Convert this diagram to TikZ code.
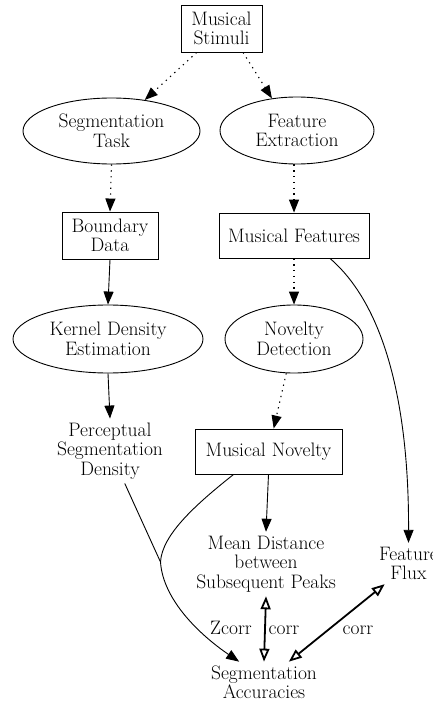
\documentclass[tikz,border=0pt]{standalone}
\usetikzlibrary{arrows.meta,shapes.geometric}
\begin{document}
\begin{tikzpicture}[x=1pt,y=-1pt,
  every node/.style={font=\fontsize{19.5}{19.5}\selectfont, align=center},
  boxnode/.style={draw, line width=0.9pt, rectangle, inner sep=0pt},
  ellnode/.style={draw, line width=0.9pt, ellipse, inner sep=0pt},
  txt/.style={inner sep=4pt},
  lbl/.style={inner sep=0pt, anchor=base},
  dotline/.style={line width=1.1pt, dash pattern=on 1.3pt off 4.5pt, -{Triangle[length=13pt,width=10pt]}},
  solline/.style={line width=0.9pt, -{Triangle[length=13pt,width=10pt]}},
  plainline/.style={line width=0.9pt},
  dblline/.style={line width=1.8pt, {Triangle[open,length=13pt,width=10pt]}-{Triangle[open,length=13pt,width=10pt]}},
]
\useasboundingbox (0,0) rectangle (433,703);

\node[boxnode, minimum width=81pt, minimum height=47pt] (stim) at (221.5,28.5) {Musical\\Stimuli};
\node[ellnode, minimum width=177pt, minimum height=66pt] (segtask) at (111.5,131) {Segmentation\\Task};
\node[ellnode, minimum width=154pt, minimum height=67pt] (featext) at (297,130.5) {Feature\\Extraction};
\node[boxnode, minimum width=96pt, minimum height=47pt] (bdata) at (110,235.5) {Boundary\\Data};
\node[boxnode, minimum width=150pt, minimum height=45pt] (mfeat) at (294,235.5) {Musical Features};
\node[ellnode, minimum width=190pt, minimum height=68pt] (kde) at (108,339) {Kernel Density\\Estimation};
\node[ellnode, minimum width=138pt, minimum height=68pt] (novdet) at (294,339) {Novelty\\Detection};
\node[txt] (perc) at (110,451) {Perceptual\\Segmentation\\Density};
\node[boxnode, minimum width=147pt, minimum height=45pt] (mnov) at (268.5,451.5) {Musical Novelty};
\node[txt] (mdist) at (266,564) {Mean Distance\\between\\Subsequent Peaks};
\node[txt] (fflux) at (408.5,563.5) {Feature\\Flux};
\node[txt] (segacc) at (264,682.5) {Segmentation\\Accuracies};
\coordinate (J) at (160.5,562);

\node[lbl] (lzc) at (231,634) {Zcorr};
\node[lbl] (lc1) at (284,634) {corr};
\node[lbl] (lc2) at (358,634) {corr};

\draw[dotline] (stim.224) -- (segtask.43);
\draw[dotline] (stim.312) -- (featext.128);
\draw[dotline] (segtask.south) -- (bdata.north);
\draw[dotline] (featext.south -| mfeat.north) -- (mfeat.north);
\draw[solline] (bdata.south) -- (kde.north);
\draw[dotline] (mfeat.south) -- (novdet.north);
\draw[solline] ([xshift=36pt]mfeat.south) .. controls (390,310) and (409,420) .. (fflux.north);
\draw[solline] (kde.south) -- (perc.north);
\draw[dotline] (novdet) -- (mnov);
\draw[solline] (mnov.south) -- (mdist.north);
\draw[plainline] (perc) -- (J);
\draw[plainline] ([xshift=39pt]mnov.south west) .. controls (195,505) and (162,535) .. (J);
\draw[solline] (J) .. controls (163,600) and (200,635) .. (segacc.140);
\draw[dblline] (mdist.south) -- (segacc.north);
\draw[dblline] (fflux.221) -- (segacc.40);
\end{tikzpicture}
\end{document}
